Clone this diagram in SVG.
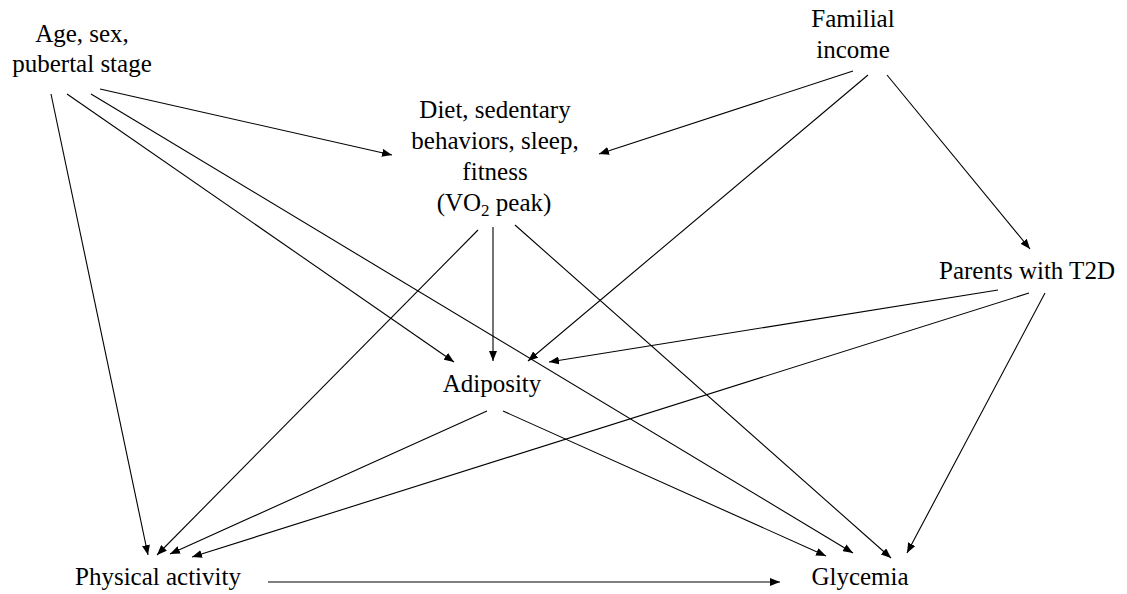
<svg xmlns="http://www.w3.org/2000/svg" width="1127" height="594" viewBox="0 0 1127 594">
<defs>
<marker id="ah" markerUnits="userSpaceOnUse" markerWidth="10" markerHeight="8" refX="10" refY="4" orient="auto"><path d="M0,0 L10,4 L0,8 z" fill="#000"/></marker>
</defs>
<rect width="1127" height="594" fill="#fff"/>
<g id="nodes" font-family="Liberation Serif" font-size="25" text-anchor="middle" fill="#000">
<g id="age"><text x="82" y="42">Age, sex,</text><text x="82" y="72">pubertal stage</text></g>
<g id="income"><text x="853" y="27">Familial</text><text x="853" y="58">income</text></g>
<g id="diet"><text x="495" y="118">Diet, sedentary</text><text x="495" y="149">behaviors, sleep,</text><text x="495" y="180">fitness</text><text x="494" y="211">(VO<tspan font-size="17" dy="5">2</tspan><tspan dy="-5"> peak)</tspan></text></g>
<g id="parents"><text x="1027" y="279">Parents with T2D</text></g>
<g id="adiposity"><text x="492" y="392">Adiposity</text></g>
<g id="pa"><text x="158" y="585">Physical activity</text></g>
<g id="glycemia"><text x="860" y="585">Glycemia</text></g>
</g>
<g id="connectors" stroke="#000" stroke-width="1.1" fill="none" marker-end="url(#ah)">
<line x1="100" y1="89" x2="392" y2="155"/>
<line x1="51" y1="94" x2="148" y2="555"/>
<line x1="67" y1="94" x2="454" y2="362"/>
<line x1="91" y1="94" x2="853" y2="553"/>
<line x1="478" y1="230" x2="157" y2="555"/>
<line x1="493" y1="227" x2="493" y2="361"/>
<line x1="515" y1="225" x2="891" y2="558"/>
<line x1="853" y1="71" x2="599" y2="154"/>
<line x1="868" y1="75" x2="528" y2="361"/>
<line x1="887" y1="75" x2="1030" y2="249"/>
<line x1="998" y1="290" x2="549" y2="362"/>
<line x1="1029" y1="293" x2="192" y2="557"/>
<line x1="1045" y1="293" x2="907" y2="553"/>
<line x1="487" y1="411" x2="170" y2="554"/>
<line x1="503" y1="411" x2="826" y2="556"/>
<line x1="268" y1="582" x2="780" y2="582"/>
</g>
</svg>
